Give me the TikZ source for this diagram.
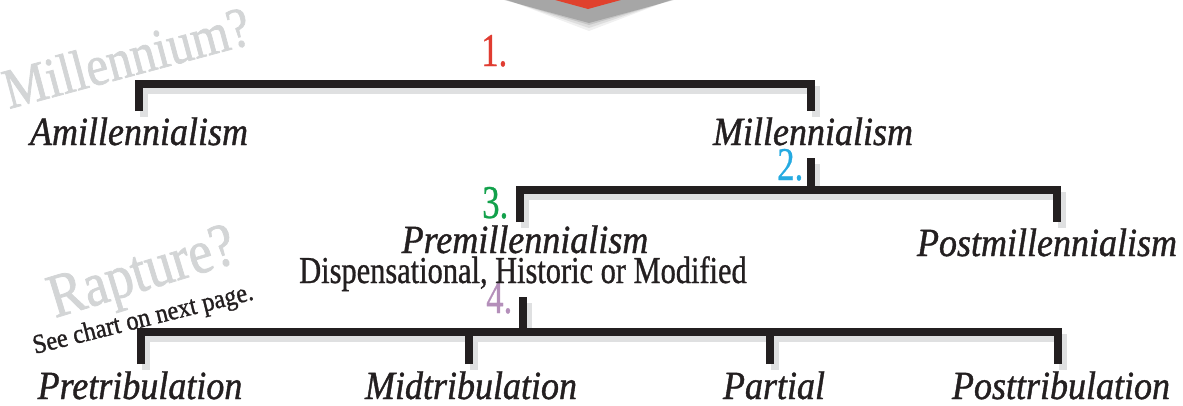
\documentclass[tikz,border=0pt]{standalone}
\usepackage{fontspec}
\setmainfont{Liberation Serif}
\newfontfamily\condrm{Liberation Serif}[FakeStretch=0.80, FakeBold=0.8]
\newfontfamily\numfont{Liberation Serif}[FakeStretch=0.74, FakeBold=0.6]
\newfontfamily\condit{Liberation Serif}[FakeStretch=0.90, FakeBold=1.0]
\newfontfamily\ghostfont{Liberation Serif}[FakeStretch=0.86, FakeBold=1.2]
\newfontfamily\notefont{Liberation Serif}[FakeStretch=0.90, FakeBold=1.2]
\definecolor{ink}{HTML}{231F20}
\definecolor{ghost}{HTML}{D3D5D6}
\definecolor{barshade}{HTML}{DFE0E1}
\definecolor{arrowred}{HTML}{E0412D}
\definecolor{numred}{HTML}{E03C31}
\definecolor{numcyan}{HTML}{25AAE1}
\definecolor{numgreen}{HTML}{12A14B}
\definecolor{numpurple}{HTML}{B48FBA}
\tikzset{
  bar/.style={line width=7.5pt, draw=ink, line join=miter},
  barshadow/.style={line width=7.5pt, draw=barshade, line join=miter,
    transform canvas={xshift=5pt, yshift=-6pt}},
  term/.style={anchor=base, inner sep=0pt, text=ink,
    font=\condit\itshape\fontsize{40}{40}\selectfont},
  subterm/.style={anchor=base, inner sep=0pt, text=ink,
    font=\condrm\fontsize{38}{38}\selectfont},
  num/.style={anchor=base west, inner sep=0pt,
    font=\numfont\fontsize{47}{47}\selectfont},
  question/.style={anchor=base west, inner sep=0pt, text=ghost,
    font=\ghostfont\fontsize{57}{57}\selectfont},
  note/.style={anchor=base west, inner sep=0pt, text=ink,
    font=\notefont\fontsize{27}{27}\selectfont},
}
\begin{document}
\begin{tikzpicture}[x=1pt,y=-1pt]
\useasboundingbox (0,0) rectangle (1183,405);

% downward pointer at the top edge, with its soft shadow
\begin{scope}
  \clip (0,0) rectangle (1183,405);
  \foreach \g/\o in {8/0.06,5/0.08,2/0.10,0/0.16}{
    \fill[black, opacity=\o] (482-\g*1.4,-6-\g) -- (589,23+\g) -- (696+\g*1.4,-6-\g) -- cycle;
  }
  \fill[arrowred] (482,-20) -- (588,9) -- (694,-20) -- cycle;
\end{scope}

% bar heights and end points of the brackets
\coordinate (bar1) at (0,84);
\coordinate (bar2) at (0,190);
\coordinate (bar3) at (0,332);
\coordinate (amil-up) at (139,111);
\coordinate (mil-up) at (811,111);
\coordinate (mil-down) at (811,158);
\coordinate (pre-up) at (520,222);
\coordinate (post-up) at (1057,222);
\coordinate (pre-down) at (523,297);
\coordinate (pretrib-up) at (141,364);
\coordinate (midtrib-up) at (469,364);
\coordinate (partial-up) at (770,364);
\coordinate (posttrib-up) at (1058,364);

% bracket shadows
\draw[barshadow] (amil-up) -- (amil-up |- bar1) -- (mil-up |- bar1) -- (mil-up);
\draw[barshadow] (mil-down) -- (mil-down |- bar2);
\draw[barshadow] (pre-up) -- (pre-up |- bar2) -- (post-up |- bar2) -- (post-up);
\draw[barshadow] (pre-down) -- (pre-down |- bar3);
\draw[barshadow] (pretrib-up) -- (pretrib-up |- bar3) -- (posttrib-up |- bar3) -- (posttrib-up);
\draw[barshadow] (midtrib-up) -- (midtrib-up |- bar3);
\draw[barshadow] (partial-up) -- (partial-up |- bar3);

% brackets
\draw[bar] (amil-up) -- (amil-up |- bar1) -- (mil-up |- bar1) -- (mil-up);
\draw[bar] (mil-down) -- (mil-down |- bar2);
\draw[bar] (pre-up) -- (pre-up |- bar2) -- (post-up |- bar2) -- (post-up);
\draw[bar] (pre-down) -- (pre-down |- bar3);
\draw[bar] (pretrib-up) -- (pretrib-up |- bar3) -- (posttrib-up |- bar3) -- (posttrib-up);
\draw[bar] (midtrib-up) -- (midtrib-up |- bar3);
\draw[bar] (partial-up) -- (partial-up |- bar3);

% questions
\node[question, rotate=15] (millq) at (9,109) {Millennium?};
\node[question, rotate=17, font=\ghostfont\fontsize{62}{62}\selectfont] (raptq) at (55,318) {Rapture?};
\node[note, rotate=14] (seenext) at (35,354) {See chart on next page.};

% step numbers
\node[num, text=numred] (n1) at (481,66) {1.};
\node[num, text=numcyan] (n2) at (777,180) {2.};
\node[num, text=numgreen] (n3) at (482,218) {3.};
\node[num, text=numpurple] (n4) at (486,313) {4.};

% positions
\node[term] (amil) at (139,145) {Amillennialism};
\node[term] (mil) at (813,145) {Millennialism};
\node[term] (premil) at (525,253) {Premillennialism};
\node[term] (postmil) at (1047,256) {Postmillennialism};
\node[subterm] (views) at (523,283) {Dispensational, Historic or Modified};
\node[term] (pretrib) at (140,399) {Pretribulation};
\node[term] (midtrib) at (471,399) {Midtribulation};
\node[term] (partial) at (774,399) {Partial};
\node[term] (posttrib) at (1061,399) {Posttribulation};
\end{tikzpicture}
\end{document}
